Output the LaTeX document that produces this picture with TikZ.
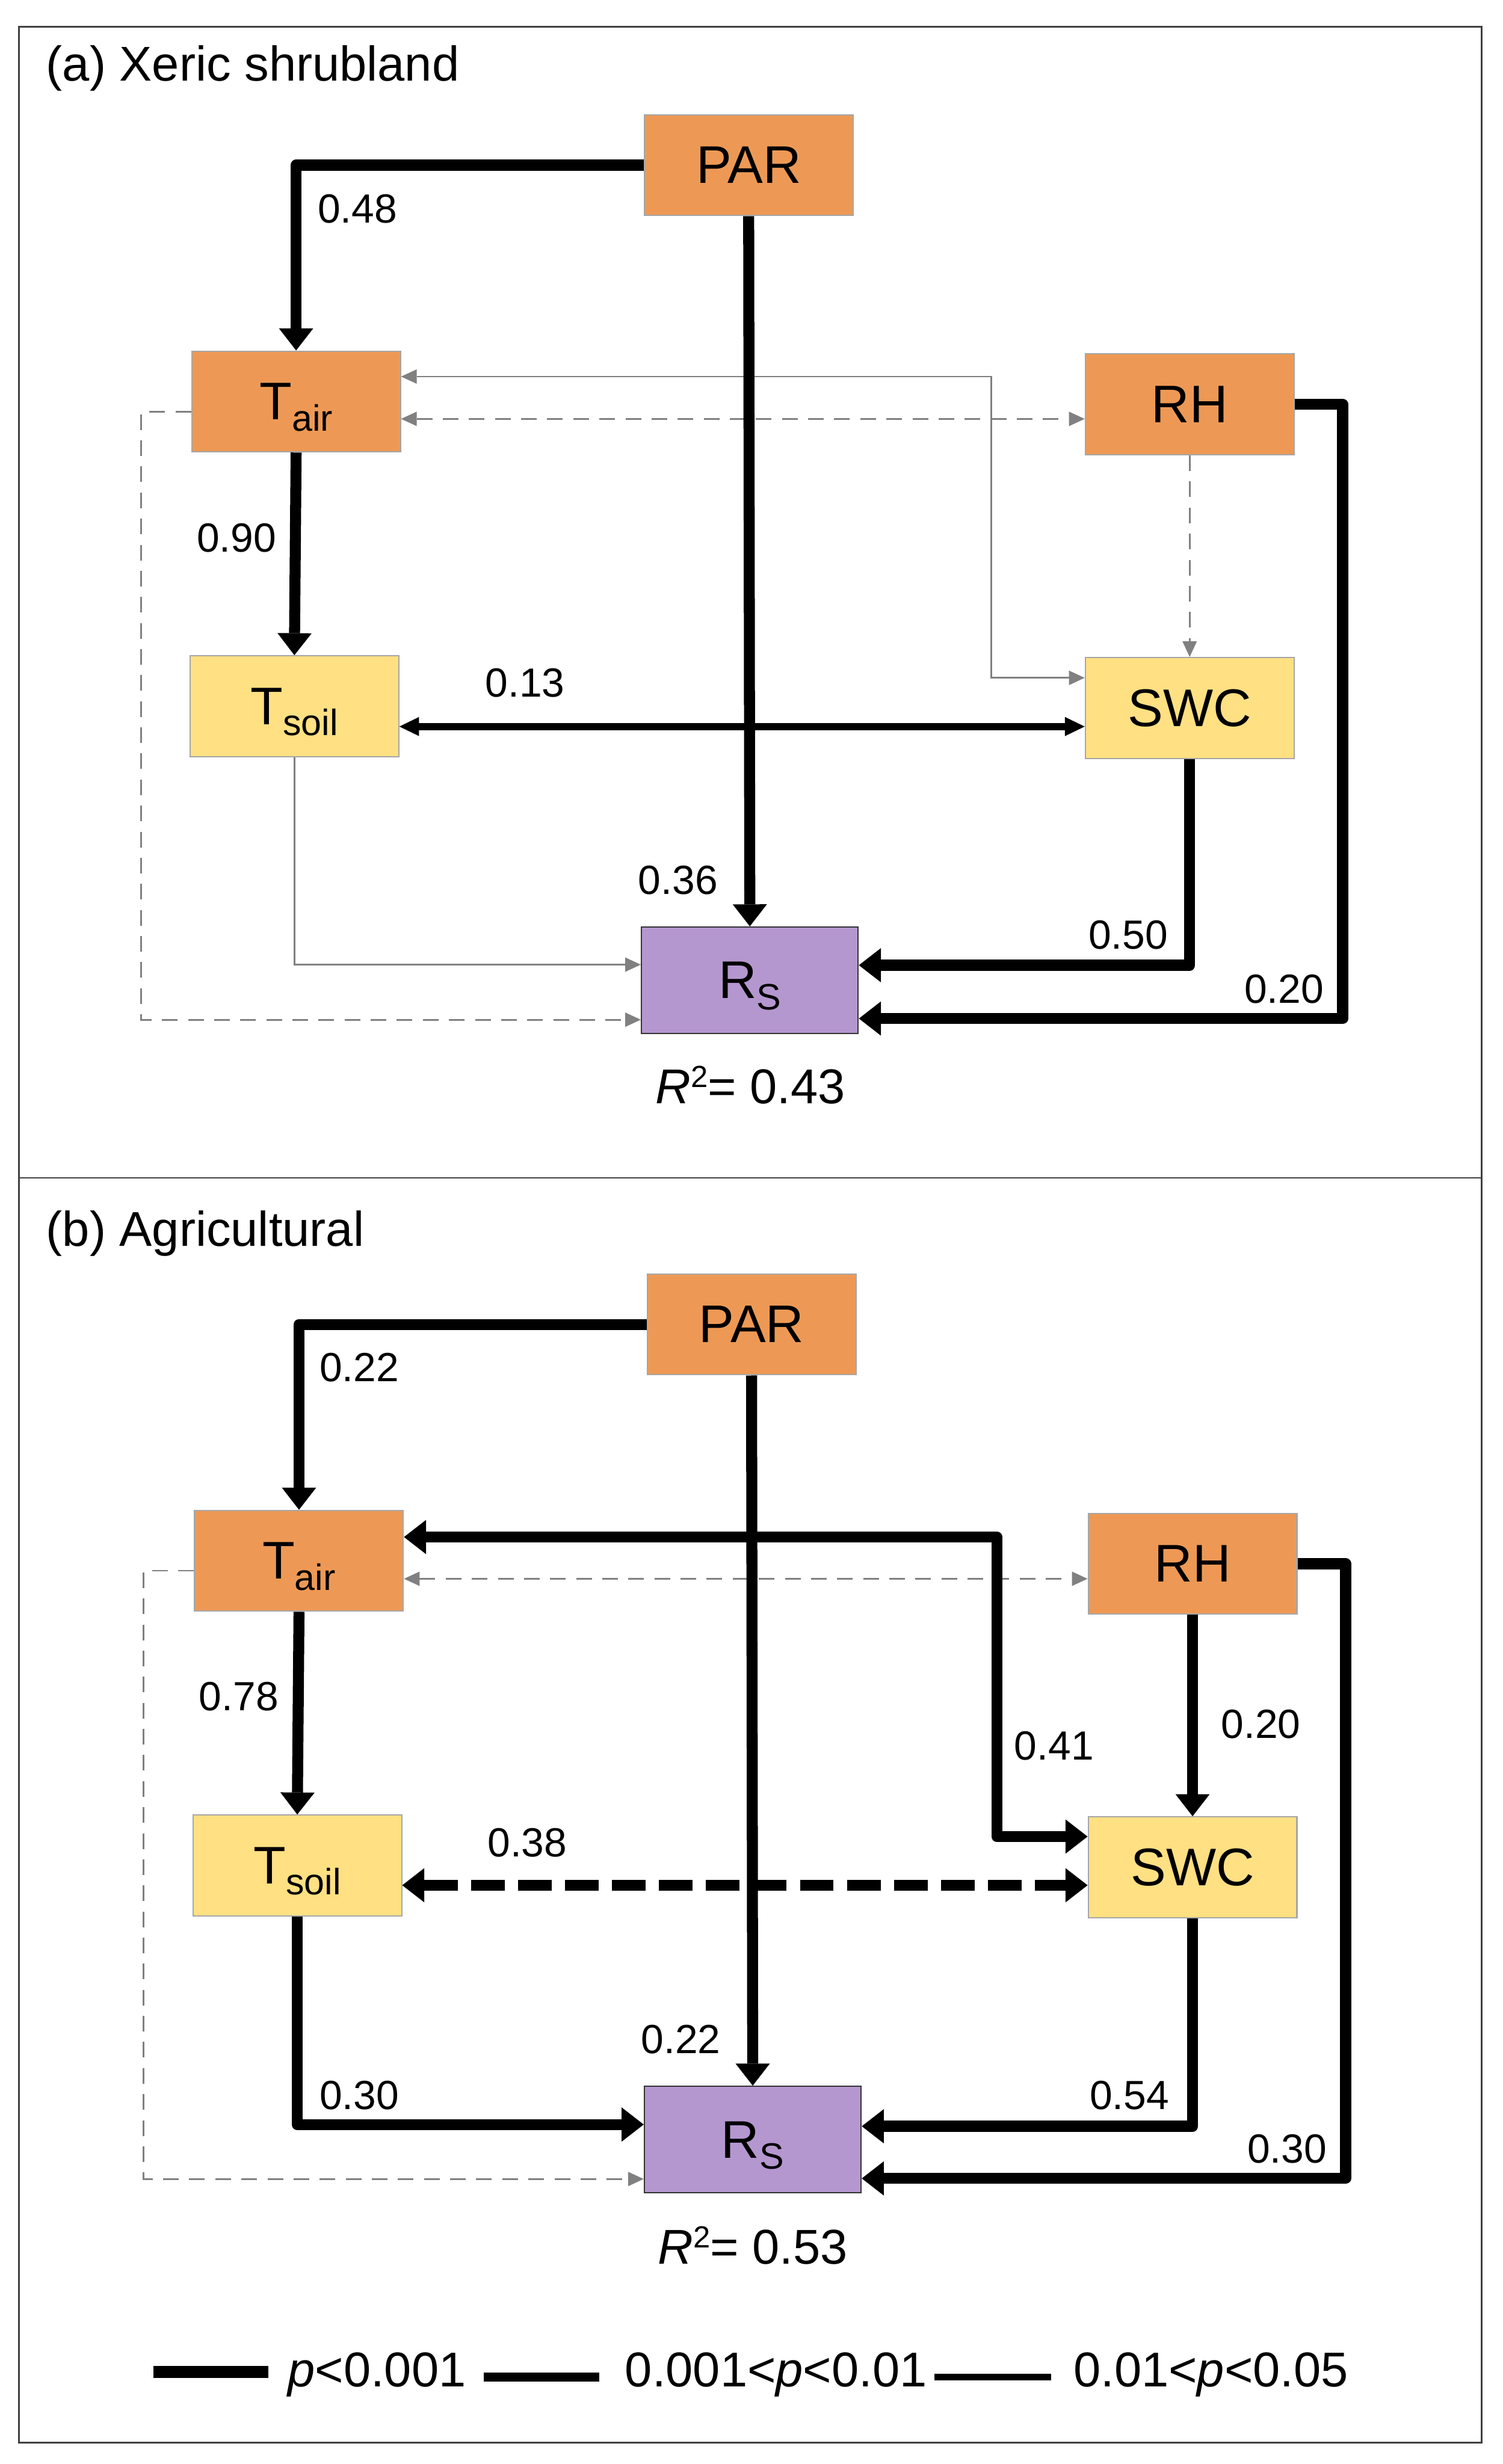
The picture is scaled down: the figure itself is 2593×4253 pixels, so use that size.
\documentclass[tikz,border=0pt]{standalone}
\usepackage{fontspec}
\setmainfont{Liberation Sans}
\usetikzlibrary{arrows.meta}
\definecolor{naranjo}{RGB}{237,153,85}
\definecolor{amarillo}{RGB}{255,224,130}
\definecolor{morado}{RGB}{181,151,207}
\definecolor{gris}{RGB}{128,128,128}
\newcommand{\abajo}[1]{\raisebox{-5.4pt}{\fontsize{18}{18}\selectfont #1}}
\tikzset{
  caja/.style={draw=black!35, line width=0.6pt, minimum width=3.6cm, minimum height=1.74cm,
    inner sep=0pt, text depth=0pt, font=\fontsize{26}{30}\selectfont},
  naranja/.style={caja, fill=naranjo},
  amarilla/.style={caja, fill=amarillo},
  morada/.style={caja, fill=morado, draw=black!80, minimum width=3.74cm, minimum height=1.84cm},
  fuerte/.style={line width=5.4pt, line join=round, >={Triangle[length=3.8mm,width=5.9mm,line width=0pt]}},
  media/.style={line width=3.4pt, >={Triangle[length=3.4mm,width=3.3mm,line width=0pt]}},
  gris/.style={draw=gris, line width=0.85pt, >={Triangle[length=2.7mm,width=2.5mm,line width=0pt,fill=gris]}},
  grisp/.style={gris, dash pattern=on 2.7mm off 1.8mm},
  coef/.style={inner sep=0pt, font=\fontsize{20}{22}\selectfont},
  titulo/.style={inner sep=0pt, anchor=west, font=\fontsize{24}{28}\selectfont},
  leyenda/.style={inner sep=0pt, anchor=base west, font=\fontsize{24}{28}\selectfont}
}
\begin{document}
\begin{tikzpicture}[x=0.01cm, y=-0.01cm]
  \useasboundingbox (0,0) rectangle (2593,4253);
  % el marco y la raya entre los paneles
  \draw[black!75, line width=0.8pt] (33,46) rectangle (2557,4216);
  \draw[black!75, line width=0.8pt] (33,2033) -- (2557,2033);
  \node[titulo] (ta) at (79,118) {(a) Xeric shrubland};
  \node[titulo] (tb) at (79,2129) {(b) Agricultural};
  % los recuadros de los dos paneles
  \foreach \p/\dx/\dy in {a/0/0, b/5/2001}{
    \begin{scope}[shift={(\dx,\dy)}]
      \node[naranja] (\p PAR) at (1292,285) {PAR};
      \node[naranja] (\p Tair) at (511,693) {T\abajo{air}};
      \node[naranja] (\p RH) at (2053,698) {RH};
      \node[amarilla] (\p Tsoil) at (508,1219) {T\abajo{soil}};
      \node[amarilla] (\p SWC) at (2053,1222) {SWC};
      \node[morada] (\p Rs) at (1294,1692) {R\abajo{S}};
    \end{scope}
  }
  % panel (a)
  \draw[gris,<->] ([yshift=5.2mm]aSWC.west) -- ++(-161,0) |- ([yshift=4.3mm]aTair.east);
  \draw[grisp,<->] ([yshift=-3mm]aTair.east) -- ([yshift=-3mm]aTair.east -| aRH.west);
  \draw[grisp,->] (aRH.south) -- (aSWC.north);
  \draw[gris,->] (aTsoil.south) |- ([yshift=2.7mm]aRs.west);
  \draw[grisp,->] ([yshift=-1.8mm]aTair.west) -- ++(-86,0) |- ([yshift=-6.8mm]aRs.west);
  \draw[media,<->] ([yshift=-3.5mm]aTsoil.east) -- ([yshift=-3.5mm]aTsoil.east -| aSWC.west);
  \draw[fuerte,->] (aPAR.west) -| (aTair.north);
  \draw[fuerte,->] (aPAR.south) -- (aRs.north);
  \draw[fuerte,->] (aTair.south) -- (aTsoil.north);
  \draw[fuerte,->] (aSWC.south) |- ([yshift=2.6mm]aRs.east);
  \draw[fuerte,->] (aRH.east) -- ++(83,0) |- ([yshift=-6.6mm]aRs.east);
  \node[coef] (a48) at (617,360) {0.48};
  \node[coef] (a90) at (408,928) {0.90};
  \node[coef] (a13) at (906,1179) {0.13};
  \node[coef] (a36) at (1170,1519) {0.36};
  \node[coef] (a50) at (1947,1614) {0.50};
  \node[coef] (a20) at (2216,1707) {0.20};
  \node[inner sep=0pt, anchor=base, font=\fontsize{24}{28}\selectfont] (ar2) at (1295,1905)
    {\textit{R}\raisebox{0.33em}{\fontsize{15}{15}\selectfont 2}= 0.43};
  % panel (b)
  \draw[grisp,<->] ([yshift=-3.1mm]bTair.east) -- ([yshift=-3.1mm]bTair.east -| bRH.west);
  \draw[grisp,->] ([yshift=-1.7mm]bTair.west) -- ++(-87,0) |- ([yshift=-6.8mm]bRs.west);
  \draw[fuerte,->] (bPAR.west) -| (bTair.north);
  \draw[fuerte,->] (bPAR.south) -- (bRs.north);
  \draw[fuerte,->] (bTair.south) -- (bTsoil.north);
  \draw[fuerte,<->] ([yshift=4.1mm]bTair.east) -- ++(1023,0) |- ([yshift=5.3mm]bSWC.west);
  \draw[fuerte,dash pattern=on 5.8mm off 2.3mm,<->] ([yshift=-3.4mm]bTsoil.east) -- ([yshift=-3.4mm]bTsoil.east -| bSWC.west);
  \draw[fuerte,->] (bRH.south) -- (bSWC.north);
  \draw[fuerte,->] (bTsoil.south) |- ([yshift=2.6mm]bRs.west);
  \draw[fuerte,->] (bSWC.south) |- ([yshift=2.3mm]bRs.east);
  \draw[fuerte,->] (bRH.east) -- ++(83,0) |- ([yshift=-6.7mm]bRs.east);
  \node[coef] (b22) at (620,2360) {0.22};
  \node[coef] (b78) at (412,2928) {0.78};
  \node[coef] (b41) at (1819,3013) {0.41};
  \node[coef] (b20) at (2176,2976) {0.20};
  \node[coef] (b38) at (910,3181) {0.38};
  \node[coef] (b22r) at (1175,3520) {0.22};
  \node[coef] (b30) at (620,3617) {0.30};
  \node[coef] (b54) at (1949,3617) {0.54};
  \node[coef] (b30r) at (2221,3709) {0.30};
  \node[inner sep=0pt, anchor=base, font=\fontsize{24}{28}\selectfont] (br2) at (1299,3908)
    {\textit{R}\raisebox{0.33em}{\fontsize{15}{15}\selectfont 2}= 0.53};
  % la leyenda
  \coordinate (l1) at (265,4094); \coordinate (l2) at (463,4094);
  \coordinate (l3) at (835,4103); \coordinate (l4) at (1034,4103);
  \coordinate (l5) at (1612,4103); \coordinate (l6) at (1814,4103);
  \draw[line width=0.21cm] (l1) -- (l2);
  \draw[line width=0.15cm] (l3) -- (l4);
  \draw[line width=0.11cm] (l5) -- (l6);
  \node[leyenda] (p1) at (496,4120) {\textit{p}<0.001};
  \node[leyenda] (p2) at (1078,4120) {0.001<\textit{p}<0.01};
  \node[leyenda] (p3) at (1852,4120) {0.01<\textit{p}<0.05};
\end{tikzpicture}
\end{document}
